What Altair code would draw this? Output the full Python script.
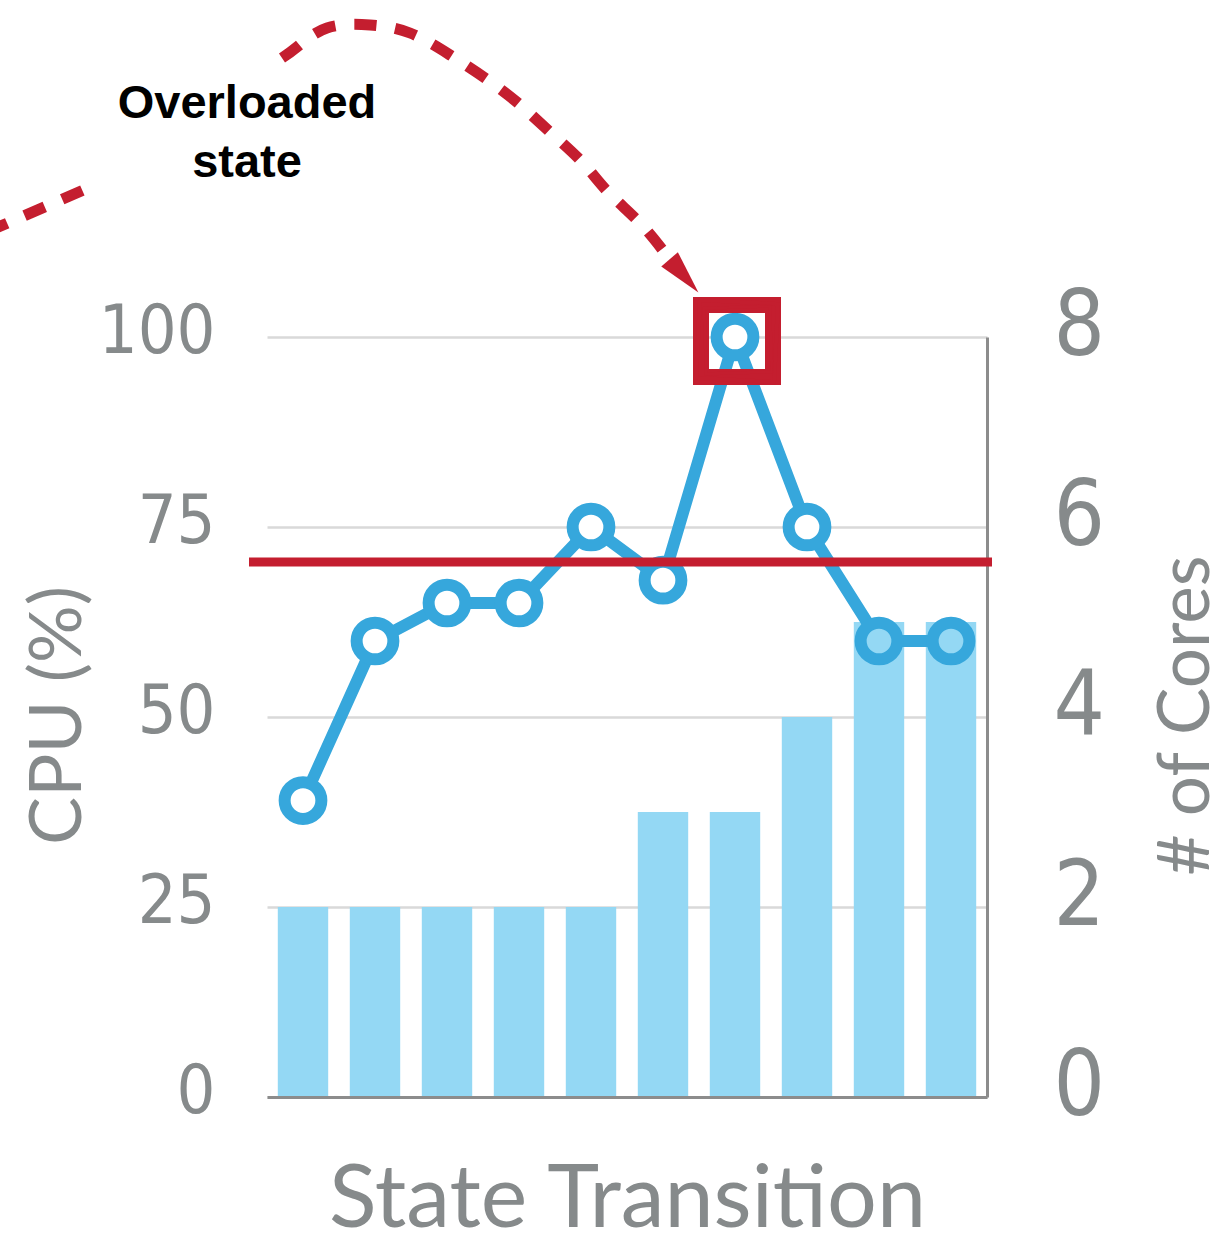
import altair as alt
import pandas as pd

# ---- data ----
states = list(range(1, 11))
cpu = [39, 60, 65, 65, 75, 68, 100, 75, 60, 60]
cores = [2, 2, 2, 2, 2, 3, 3, 4, 5, 5]
cpu_ticks = [0, 25, 50, 75, 100]
core_ticks = [0, 2, 4, 6, 8]
threshold = [70.4]

# ---- annotation arrow path (pixels relative to the plot origin) ----
arrow_left_x = [-280, -172]
arrow_left_y = [-105, -152]
arrow_curve_x = [15, 30, 60, 103, 143, 183, 218, 251, 283, 315, 341, 373, 401]
arrow_curve_y = [-279, -290, -309, -312, -304, -282, -259, -234, -205, -175, -145, -114, -80]

GRAY = "#868a8b"
AXIS = "#8c8c8c"
GRID = "#d9d9d9"
BAR = "#94d8f4"
LINE = "#36a7dc"
RED = "#c41e2f"
COND = "Liberation Sans Narrow, DejaVu Sans Condensed, sans-serif"
TITLE_FONT = "Lato"

df = pd.DataFrame({"state": states, "cpu": cpu, "cores": cores})
thr_df = pd.DataFrame({"cpu": threshold})

xenc = alt.X(
    "state:O",
    scale=alt.Scale(type="band", paddingInner=0.3, paddingOuter=0.15),
    axis=alt.Axis(
        labels=False, ticks=False, domain=True, domainColor=AXIS, domainWidth=3,
        grid=False, zindex=1,
        title="State Transi\u200ction", titleFont=TITLE_FONT, titleFontSize=88,
        titleFontWeight="normal", titleColor=GRAY, titleX=360, titleY=129,
        titleBaseline="alphabetic", titleAlign="center",
    ),
)

cpu_scale = alt.Scale(domain=[0, 100], nice=False, zero=True)
cpu_axis = alt.Axis(
    orient="left", values=cpu_ticks, grid=True, gridColor=GRID, gridWidth=2.5,
    ticks=False, domain=False, labelFont=COND, labelFontSize=68, labelColor=GRAY,
    labelPadding=52, labelOffset=-5, labelFlush=False, labelOverlap=False,
    labelBaseline="middle",
    title="CPU (%)", titleFont=TITLE_FONT, titleFontSize=72, titleFontWeight="normal",
    titleColor=GRAY, titleAngle=270, titleX=-187, titleY=378,
    titleBaseline="alphabetic", titleAlign="center",
)
cpu_y = alt.Y("cpu:Q", scale=cpu_scale, axis=cpu_axis)

core_y = alt.Y(
    "cores:Q",
    scale=alt.Scale(domain=[0, 8], nice=False, zero=True),
    axis=alt.Axis(
        orient="right", values=core_ticks, grid=False, ticks=False, domain=True,
        domainColor=AXIS, domainWidth=3, labelFont=COND, labelFontSize=90,
        labelColor=GRAY, labelPadding=66, labelOffset=-10, labelFlush=False,
        labelOverlap=False, labelBaseline="middle",
        title="# of Cores", titleFont=TITLE_FONT, titleFontSize=71,
        titleFontWeight="normal", titleColor=GRAY, titleAngle=270, titleX=221,
        titleY=378, titleBaseline="alphabetic", titleAlign="center",
    ),
)

bars = alt.Chart(df).mark_bar(color=BAR).encode(x=xenc, y=core_y)

line = alt.Chart(df).mark_line(color=LINE, strokeWidth=12).encode(x=xenc, y=cpu_y)

points = alt.Chart(df).mark_point(
    shape="circle", filled=True, size=1350, stroke=LINE, strokeWidth=12, opacity=1
).encode(
    x=xenc, y=cpu_y,
    fill=alt.condition("datum.cpu < datum.cores * 12.5", alt.value(BAR), alt.value("white")),
)

rule = alt.Chart(thr_df).mark_rule(color=RED, strokeWidth=9).encode(
    y=cpu_y, x=alt.value(-18), x2=alt.value(725)
)

square = alt.Chart(df).transform_filter("datum.cpu >= 100").mark_point(
    shape="square", size=5184, filled=False, stroke=RED, strokeWidth=16,
    opacity=1, xOffset=2, yOffset=4,
).encode(x=xenc, y=cpu_y)

square2 = alt.Chart(df).transform_filter("datum.cpu >= 100").mark_point(
    shape="square", size=6100, filled=False, stroke=RED, strokeWidth=4,
    opacity=0.8, xOffset=2, yOffset=4, angle=3,
).encode(x=xenc, y=cpu_y)

square3 = alt.Chart(df).transform_filter("datum.cpu >= 100").mark_point(
    shape="square", size=4300, filled=False, stroke=RED, strokeWidth=3,
    opacity=0.7, xOffset=3, yOffset=3, angle=358,
).encode(x=xenc, y=cpu_y)

cpu_layer = alt.layer(line, points, rule, square, square2, square3)

main = alt.layer(bars, cpu_layer).resolve_scale(y="independent")

path_df = pd.DataFrame({
    "px": arrow_left_x + arrow_curve_x,
    "py": arrow_left_y + arrow_curve_y,
    "seg": ["a"] * len(arrow_left_x) + ["b"] * len(arrow_curve_x),
    "i": list(range(len(arrow_left_x) + len(arrow_curve_x))),
})

arrow = alt.Chart(path_df).mark_line(
    color=RED, strokeWidth=11, strokeDash=[22, 19], interpolate="natural", strokeCap="butt"
).encode(
    x=alt.X("px:Q", scale=None, axis=None),
    y=alt.Y("py:Q", scale=None, axis=None),
    detail="seg:N",
    order="i:Q",
)

head_df = pd.DataFrame({"k": [0]})
head = alt.Chart(head_df).mark_point(
    shape="M0,-1L0.5,1L-0.5,1Z", size=1936, angle=139, filled=True,
    color=RED, opacity=1,
).encode(x=alt.value(417), y=alt.value(-61))

label = alt.Chart(head_df).mark_text(
    text=["Overloaded", "state"], font="Liberation Sans", fontWeight="bold",
    fontSize=47, lineHeight=59, align="center", baseline="alphabetic", color="black",
).encode(x=alt.value(-20), y=alt.value(-219))

chart = alt.layer(main, arrow, head, label).properties(
    width=720,
    height=760,
    padding={"left": 267, "top": 337, "right": 243, "bottom": 137},
    autosize=alt.AutoSizeParams(type="none"),
    background="white",
).configure_view(stroke=None)

chart.save("out.html", embed_options={"renderer": "svg", "actions": False})
